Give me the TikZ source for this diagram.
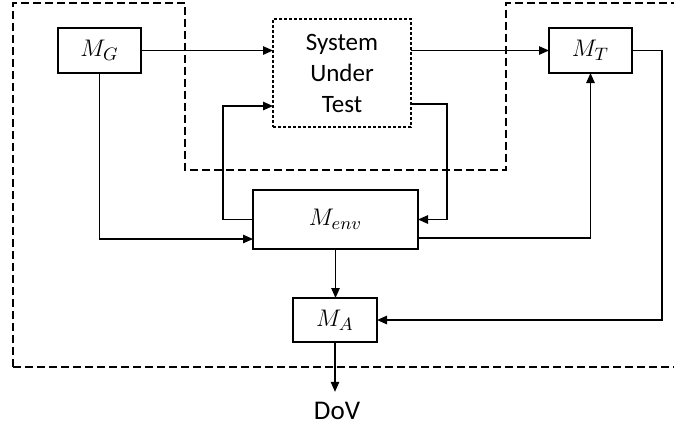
\documentclass[tikz,border=0pt]{standalone}
\usepackage{fontspec}
\setmainfont{Carlito}
\usetikzlibrary{arrows.meta,calc}

\begin{document}
\begin{tikzpicture}[x=.5pt, y=-.5pt,
        blk/.style={draw, line width=.75pt, inner sep=0pt, outer sep=0pt,
            font=\fontsize{12.5}{15}\selectfont},
        conn/.style={line width=.75pt, -{Triangle[length=5pt, width=4.2pt]}}]
        \useasboundingbox (0, 0) rectangle (674, 425);
        \draw [line width=.65pt, dash pattern=on 4pt off 2pt]
            (13, 367) -- (13, 3) -- (185, 3) -- (185, 170) -- (506, 170) -- (506, 3) -- (674, 3)
            (13, 367) -- (674, 367);
        \node [blk, minimum width=41.5pt, minimum height=22.5pt] (mg) at (99.5, 50.5) {$M_G$};
        \node [blk, minimum width=41.5pt, minimum height=22.5pt] (mt) at (590.5, 50.5) {$M_T$};
        \node [blk, dash pattern=on 1.5pt off 1pt, minimum width=69pt, minimum height=54pt,
            align=center, font=\fontsize{12.5}{15.5}\selectfont] (sut) at (342, 73)
            {System\\Under\\Test};
        \node [blk, minimum width=82.5pt, minimum height=29.5pt] (menv) at (335.5, 219.5) {$M_{env}$};
        \node [blk, minimum width=42pt, minimum height=22pt] (ma) at (335, 320) {$M_A$};
        \node [inner sep=5pt, font=\fontsize{13.5}{16}\selectfont] (dov) at (337, 411) {DoV};
        \draw [conn] (mg.east) -- (mg.east -| sut.west);
        \draw [conn] (mt.west -| sut.east) -- (mt.west);
        \draw [conn] (mt.east) -- ++(30, 0) |- (ma.east);
        \draw [conn] (mg.south) |- ($(menv.west) + (0, 19.5)$);
        \draw [conn] (menv.west) -- ++(-30, 0) |- ($(sut.west) + (0, 33)$);
        \draw [conn] ($(sut.east) + (0, 31)$) -| ($(menv.east) + (29, 0)$) -- (menv.east);
        \draw [conn] ($(menv.east) + (0, 18.5)$) -| (mt.south);
        \draw [conn] (menv.south) -- (menv.south |- ma.north);
        \draw [conn] (ma.south) -- (ma.south |- dov.north);
    \end{tikzpicture}
\end{document}
